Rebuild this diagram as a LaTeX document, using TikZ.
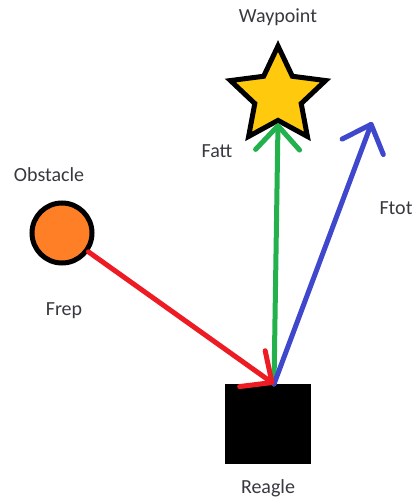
\documentclass[tikz,border=0pt]{standalone}
\usepackage{fontspec}
\setmainfont{Carlito}
\usetikzlibrary{positioning,arrows.meta,shapes.geometric}
\definecolor{paintred}{HTML}{ED1C24}
\definecolor{paintgreen}{HTML}{22B14C}
\definecolor{paintblue}{HTML}{3F48CC}
\definecolor{paintorange}{HTML}{FF7F27}
\definecolor{paintyellow}{HTML}{FFC90E}
\definecolor{ink}{HTML}{383840}

\tikzset{
  lbl/.style={text=ink, font=\fontsize{20}{22}\selectfont, inner sep=0pt},
  force/.style={line width=5pt, line cap=round,
    -{Straight Barb[length=24pt,width=44pt,line cap=round,line join=round]}},
}

\begin{document}
\begin{tikzpicture}[x=1pt,y=-1pt]
\useasboundingbox (0,0) rectangle (419,500);
% bodies
\node[star, star points=5, star point ratio=2.05, minimum size=100pt, inner sep=0pt,
      fill=paintyellow, draw=black, line width=5pt, line join=miter] (waypt) at (278,96) {};
\node[circle, minimum size=60pt, inner sep=0pt, fill=paintorange, draw=black, line width=5pt] (obst) at (62,233) {};
\node[rectangle, minimum width=86pt, minimum height=80pt, inner sep=0pt, fill=black] (reagle) at (268,424) {};
\coordinate (base) at (274,384);
\coordinate (total) at (372,122);
% forces
\draw[force, draw=paintgreen] (base) -- (waypt.south);
\draw[force, draw=paintblue] (base) -- (total);
\draw[force, draw=paintred] (obst) -- (base);
% labels
\node[lbl] (wayptlbl) at (278,17) {Waypoint};
\node[lbl] (obstlbl) at (49,175) {Obstacle};
\node[lbl] (reaglelbl) at (268,488) {Reagle};
\node[lbl] (fatt) at (217,151) {Fatt};
\node[lbl] (frep) at (64,311) {Frep};
\node[lbl] (ftot) at (396,208) {Ftot};
\end{tikzpicture}
\end{document}
